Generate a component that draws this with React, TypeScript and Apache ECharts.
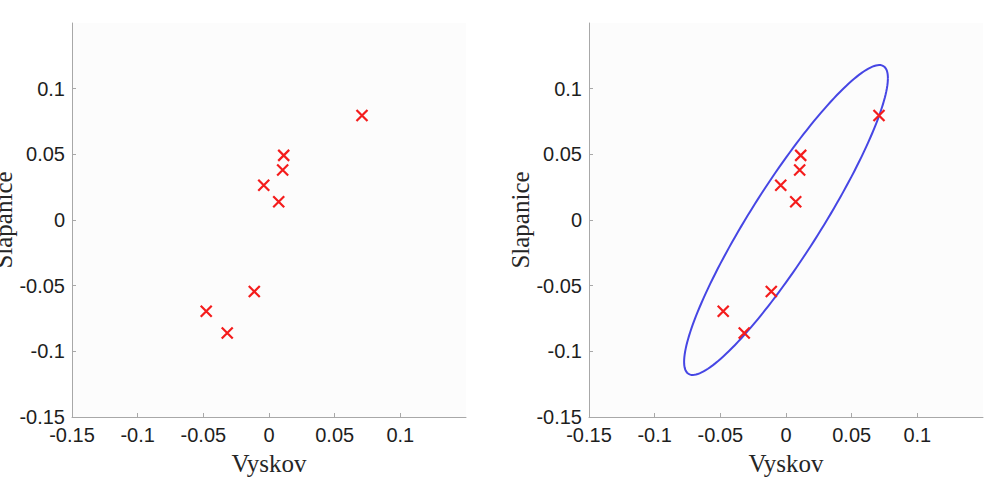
import React, { useEffect, useRef } from "react";
import * as echarts from "echarts";

// Data points (Vyskov, Slapanice)
const vyskov = [0.0708, 0.0112, 0.0104, -0.004, 0.0074, -0.0112, -0.0478, -0.0318];
const slapanice = [0.0795, 0.0492, 0.0381, 0.0265, 0.0139, -0.0545, -0.0695, -0.0861];

// Ellipse (confidence region) parameters
const ellipseCenter = [0.0, 0.0];
const ellipseCov = [
  [0.00602, 0.00838],
  [0.00838, 0.01392],
];

const tickValues = [-0.15, -0.1, -0.05, 0, 0.05, 0.1];

const X_NAME = "Vyskov";
const Y_NAME = "Slapanice";

export default function App() {
  const ref = useRef<HTMLDivElement>(null);

  useEffect(() => {
    if (!ref.current) return;
    const chart = echarts.init(ref.current, undefined, { renderer: "svg" });

    const points = vyskov.map((x, i) => [x, slapanice[i]]);
    const crossPath = "path://M0,0L10,10M10,0L0,10";

    const labelStyle = {
      color: "#1e1e1e",
      fontFamily: "Liberation Sans, Arial, sans-serif",
      fontSize: 20,
    };
    const nameStyle = {
      color: "#262626",
      fontFamily: "Liberation Serif, Times New Roman, serif",
      fontSize: 25,
    };

    const fmt = (v: number) => {
      const t = tickValues.find((tv) => Math.abs(tv - v) < 1e-9);
      return t === undefined ? "" : String(t);
    };

    const makeX = (gridIndex: number) => ({
      type: "value",
      gridIndex,
      min: -0.15,
      max: 0.15,
      interval: 0.05,
      name: X_NAME,
      nameLocation: "middle",
      nameGap: 34,
      nameTextStyle: nameStyle,
      axisLine: { show: true, onZero: false, lineStyle: { color: "#a8a8a8", width: 1 } },
      axisTick: { show: true, inside: true, length: 4, lineStyle: { color: "#a8a8a8" } },
      axisLabel: { ...labelStyle, margin: 8, showMaxLabel: false, formatter: fmt },
      splitLine: { show: false },
    });

    const makeY = (gridIndex: number) => ({
      type: "value",
      gridIndex,
      min: -0.15,
      max: 0.15,
      interval: 0.05,
      name: Y_NAME,
      nameLocation: "middle",
      nameGap: 55,
      nameTextStyle: nameStyle,
      axisLine: { show: true, onZero: false, lineStyle: { color: "#a8a8a8", width: 1 } },
      axisTick: { show: true, inside: true, length: 4, lineStyle: { color: "#a8a8a8" } },
      axisLabel: { ...labelStyle, margin: 7, showMaxLabel: false, formatter: fmt },
      splitLine: { show: false },
    });

    const scatterSeries = (idx: number) => ({
      type: "scatter",
      xAxisIndex: idx,
      yAxisIndex: idx,
      data: points,
      symbol: crossPath,
      symbolSize: 11,
      itemStyle: { color: "rgba(0,0,0,0)", borderColor: "#f41c1c", borderWidth: 2.2, opacity: 1 },
      z: 5,
    });

    // Cholesky factor of ellipse matrix
    const l11 = Math.sqrt(ellipseCov[0][0]);
    const l21 = ellipseCov[1][0] / l11;
    const l22 = Math.sqrt(ellipseCov[1][1] - l21 * l21);

    const gridBase = {
      top: 23,
      width: 394,
      height: 394,
      show: true,
      backgroundColor: "#fcfcfc",
      borderWidth: 0,
      containLabel: false,
      outerBoundsMode: "none",
    };

    const option = {
      animation: false,
      backgroundColor: "#ffffff",
      grid: [
        { ...gridBase, left: 72 },
        { ...gridBase, left: 589 },
      ],
      xAxis: [makeX(0), makeX(1)],
      yAxis: [makeY(0), makeY(1)],
      series: [
        scatterSeries(0),
        {
          type: "custom",
          xAxisIndex: 1,
          yAxisIndex: 1,
          data: [ellipseCenter],
          clip: false,
          z: 3,
          renderItem: (params: any, api: any) => {
            const cx = api.value(0);
            const cy = api.value(1);
            const pts: number[][] = [];
            const n = 180;
            for (let k = 0; k <= n; k++) {
              const t = (2 * Math.PI * k) / n;
              const dx = l11 * Math.cos(t);
              const dy = l21 * Math.cos(t) + l22 * Math.sin(t);
              pts.push(api.coord([cx + dx, cy + dy]));
            }
            return {
              type: "polyline",
              shape: { points: pts },
              style: { stroke: "#4646e4", lineWidth: 2, fill: "none" },
            };
          },
        },
        scatterSeries(1),
      ],
    };

    chart.setOption(option as any);
    return () => chart.dispose();
  }, []);

  return (
    <div
      ref={ref}
      style={{ position: "absolute", left: 0, top: 0, width: 985, height: 491 }}
    />
  );
}
